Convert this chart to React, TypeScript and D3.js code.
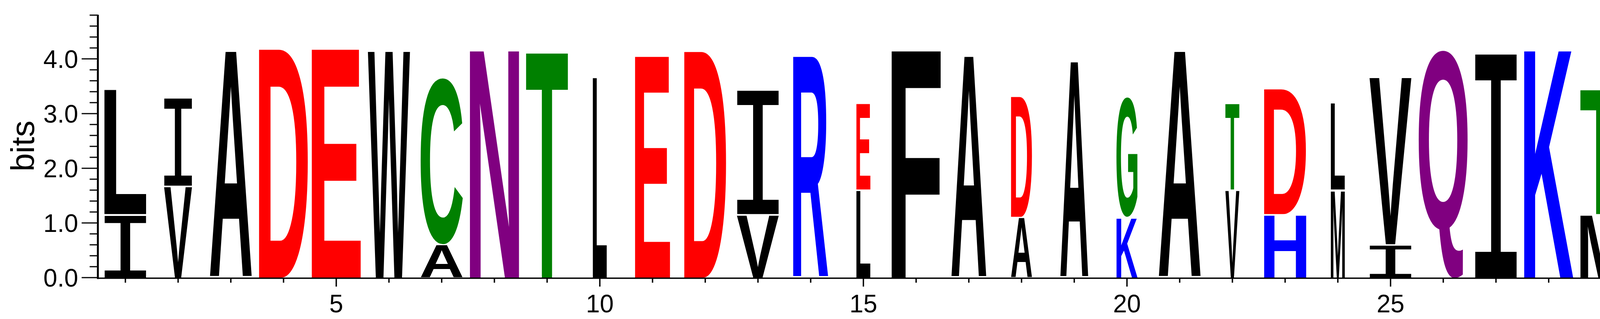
import { useMemo } from "react"
import * as d3 from "d3"

// Sequence logo, 31 positions, letters stacked bottom -> top
const POSITIONS = d3.range(1, 32)

const LETTERS: string[][] = [
  ["I", "L"], ["V", "I"], ["A"], ["D"], ["E"], ["W"], ["A", "C"], ["N"], ["T"], ["L"],
  ["E"], ["D"], ["V", "I"], ["R"], ["L", "E"], ["F"], ["A"], ["A", "D"], ["A"], ["K", "G"],
  ["A"], ["V", "T"], ["H", "D"], ["M", "L"], ["I", "V"], ["Q"], ["I"], ["K"], ["M", "T"], ["P"], ["D"]
]

// bits per letter, same order as LETTERS
const BITS: number[][] = [
  [1.15, 2.3], [1.67, 1.63], [4.15], [4.19], [4.19], [4.15], [0.6, 3.06], [4.19], [4.15], [3.67],
  [4.06], [4.15], [1.15, 2.3], [4.06], [1.6, 1.59], [4.19], [4.06], [1.1, 2.22], [3.96], [1.1, 2.21],
  [4.15], [1.6, 1.6], [1.15, 2.31], [1.6, 1.6], [0.6, 3.07], [4.19], [4.13], [4.19], [1.15, 2.31], [4.19], [4.19]
]

// number of sequences (out of 7) with a residue at each position -> column width
const OCCUPANCY = [6, 4, 6, 7, 7, 6, 6, 7, 6, 2, 5, 6, 6, 5, 2, 7, 5, 3, 4, 3, 6, 2, 6, 2, 6, 7, 6, 7, 6, 7, 7]
const N_SEQS = 7

const Y_MAX = 4.8
const Y_LABELS = [0, 1, 2, 3, 4]
const X_LABELS = [5, 10, 15, 20, 25, 30]

const COLORS: Record<string, string> = {
  D: "#ff0000", E: "#ff0000",
  K: "#0000ff", R: "#0000ff", H: "#0000ff",
  N: "#800080", Q: "#800080",
  G: "#008000", S: "#008000", T: "#008000", Y: "#008000", C: "#008000",
}

const LETTER_FONT = "'Liberation Sans', Arial, sans-serif"
const I_FONT = "'Liberation Mono', 'Courier New', monospace"
const AXIS_FONT = "'Liberation Sans', Arial, sans-serif"

type Ink = { left: number; right: number; ascent: number; descent: number }

function fontFor(ch: string) {
  return ch === "I" ? I_FONT : LETTER_FONT
}
function weightFor(ch: string) {
  return ch === "I" ? "normal" : "bold"
}

function measure(ch: string): Ink {
  const ctx = document.createElement("canvas").getContext("2d")!
  ctx.font = `${weightFor(ch)} 200px ${fontFor(ch)}`
  const m = ctx.measureText(ch)
  return {
    left: m.actualBoundingBoxLeft,
    right: m.actualBoundingBoxRight,
    ascent: m.actualBoundingBoxAscent,
    descent: m.actualBoundingBoxDescent,
  }
}

export default function App() {
  const width = 4525
  const height = 817

  const x = d3.scaleLinear().domain([1, 31]).range([321, 4369.5])
  const y = d3.scaleLinear().domain([0, Y_MAX]).range([711, 38.8])
  const maxColW = 126
  const gap = 1.6

  const inks = useMemo(() => {
    const all = [...new Set(LETTERS.flat())]
    return Object.fromEntries(all.map(ch => [ch, measure(ch)])) as Record<string, Ink>
  }, [])

  const glyphs = POSITIONS.flatMap((p, i) => {
    const w = (OCCUPANCY[i] / N_SEQS) * maxColW
    const x0 = x(p) - w / 2
    let base = 0
    return LETTERS[i].map((ch, j) => {
      const h = BITS[i][j]
      const yBot = y(base) - (j === 0 ? 0 : gap)
      const yTop = y(base + h) + gap
      base += h
      const ink = inks[ch]
      const sx = w / (ink.left + ink.right)
      const sy = (yBot - yTop) / (ink.ascent + ink.descent)
      const tx = x0 + ink.left * sx
      const ty = yTop + ink.ascent * sy
      return (
        <text
          key={`${p}-${j}`}
          transform={`translate(${tx},${ty}) scale(${sx},${sy})`}
          fontFamily={fontFor(ch)}
          fontWeight={weightFor(ch)}
          fontSize={200}
          fill={COLORS[ch] || "#000000"}
        >
          {ch}
        </text>
      )
    })
  })

  const yTicks = d3.range(0, Y_MAX + 0.001, 0.2)
  const axisX = 250.5
  const axisY = 712.5

  return (
    <div style={{ position: "absolute", left: 0, top: 0, width, height, background: "#fff" }}>
      <svg width={width} height={height}>
        <g>{glyphs}</g>

        {/* y axis */}
        <line x1={axisX} x2={axisX} y1={y(Y_MAX) - 1} y2={axisY + 2} stroke="#000" strokeWidth={5} />
        {yTicks.map((t, i) => {
          const major = i % 5 === 0
          return (
            <line key={i} x1={major ? 209 : 229.5} x2={axisX} y1={y(t)} y2={y(t)} stroke="#000" strokeWidth={3} />
          )
        })}
        {Y_LABELS.map(t => (
          <text key={t} x={200} y={y(t) + 23} textAnchor="end" fontFamily={AXIS_FONT} fontSize={64} fill="#000">
            {t.toFixed(1)}
          </text>
        ))}
        <text transform="translate(87,374) rotate(-90)" textAnchor="middle" fontFamily={AXIS_FONT} fontSize={84} fill="#000">
          bits
        </text>

        {/* x axis */}
        <line x1={axisX} x2={x(31.5)} y1={axisY} y2={axisY} stroke="#000" strokeWidth={3.6} />
        {POSITIONS.map(p => {
          const major = p % 5 === 0
          return (
            <line key={p} x1={x(p)} x2={x(p)} y1={axisY} y2={major ? 734 : 724} stroke="#000" strokeWidth={3.5} />
          )
        })}
        {X_LABELS.map(p => (
          <text key={p} x={x(p)} y={800} textAnchor="middle" fontFamily={AXIS_FONT} fontSize={64} fill="#000">
            {p}
          </text>
        ))}
      </svg>
    </div>
  )
}
